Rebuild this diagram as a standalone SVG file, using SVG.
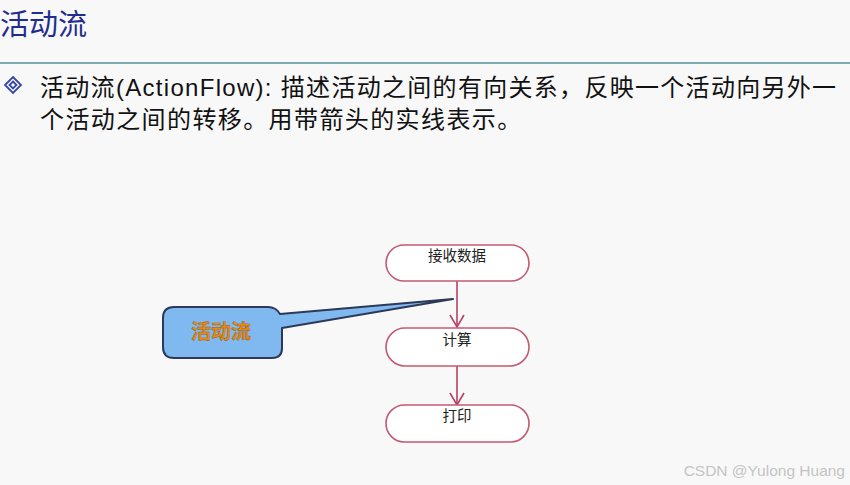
<svg xmlns="http://www.w3.org/2000/svg" width="850" height="485" viewBox="0 0 850 485">
<defs>
<style>
.cjk{font-family:"Liberation Sans","Noto Sans CJK SC",sans-serif}
.pill{fill:#ffffff;stroke:#c25a72;stroke-width:1.6}
.lbl{font-family:"Noto Sans CJK SC",sans-serif;font-size:14.5px;fill:#222;text-anchor:middle}
.flow{stroke:#b84062;stroke-width:1.6;fill:none}
.head{stroke:#b84062;stroke-width:1.6;fill:none;stroke-linejoin:miter}
</style>
</defs>
<rect width="850" height="485" fill="#f8f8f8"/>
<text x="0" y="35" font-family="Noto Sans CJK SC,sans-serif" font-size="29" fill="#1f2d8f">活动流</text>
<line x1="0" y1="63" x2="850" y2="63" stroke="#7fa9b0" stroke-width="2"/>
<g id="bullet" fill="none" stroke="#3646a8" stroke-width="1.8">
<path d="M13,77 L21,85 L13,93 L5,85 Z"/>
<path d="M13,81.5 L16.5,85 L13,88.5 L9.5,85 Z"/>
</g>
<text x="40" y="96" class="cjk" font-size="24" fill="#111" letter-spacing="1.3">活动流(ActionFlow): 描述活动之间的有向关系，反映一个活动向另外一</text>
<text x="40" y="128" class="cjk" font-size="24" fill="#111" letter-spacing="1.4">个活动之间的转移。用带箭头的实线表示。</text>
<g id="connectors">
<line class="flow" x1="457" y1="280" x2="457" y2="327"/>
<path class="head" d="M450,315 L457,327 L464,315"/>
<line class="flow" x1="457" y1="366" x2="457" y2="405"/>
<path class="head" d="M450,393 L457,405 L464,393"/>
</g>
<g id="node-receive">
<rect class="pill" x="386" y="245" width="143" height="36" rx="18"/>
<text class="lbl" x="457" y="261">接收数据</text>
</g>
<g id="node-compute">
<rect class="pill" x="386" y="328" width="143" height="38" rx="19"/>
<text class="lbl" x="457" y="345">计算</text>
</g>
<g id="node-print">
<rect class="pill" x="386" y="405" width="143" height="37" rx="18.5"/>
<text class="lbl" x="457" y="421">打印</text>
</g>
<g id="callout">
<path d="M174,307 L268,307 Q276,307 280,314 L453,299 L282,328 L282,348 Q282,358 272,358 L174,358 Q163,358 163,347 L163,318 Q163,307 174,307 Z" fill="#80b8f0" stroke="#2c3a58" stroke-width="2" stroke-linejoin="round"/>
<text x="221" y="339" font-family="Noto Sans CJK SC,sans-serif" font-size="20" font-weight="bold" fill="#e58a12" stroke="#9a5a10" stroke-width="0.4" text-anchor="middle">活动流</text>
</g>
<text x="845" y="476" font-family="Liberation Sans,sans-serif" font-size="15.5" fill="#c4c4c4" text-anchor="end">CSDN @Yulong Huang</text>
</svg>
